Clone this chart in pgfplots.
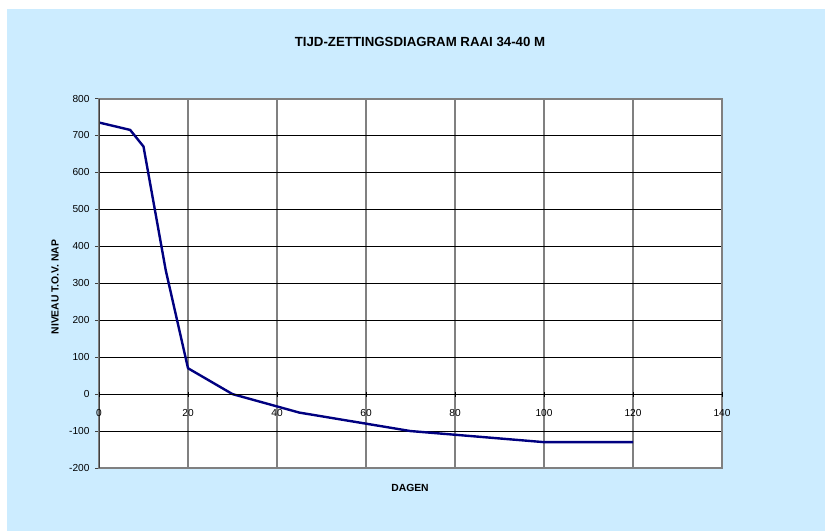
\documentclass[border=0pt]{standalone}
\usepackage{pgfplots}
\pgfplotsset{compat=1.18}
\usepackage{fontspec}
\setmainfont{Liberation Sans}
\definecolor{bgblue}{HTML}{CCECFF}
\definecolor{navyline}{HTML}{000080}
\begin{document}
\begin{tikzpicture}[x=1bp,y=1bp]
\fill[white] (0,0) rectangle (825,-531);
\fill[bgblue] (7,-9) rectangle (825,-531);
\node[font=\bfseries\fontsize{13.3}{15}\selectfont] at (420,-42) {TIJD-ZETTINGSDIAGRAM RAAI 34-40 M};
\node[font=\bfseries\fontsize{10.4}{12}\selectfont, rotate=90] at (55,-287) {NIVEAU T.O.V. NAP};
\node[font=\bfseries\fontsize{10.4}{12}\selectfont] at (410,-488) {DAGEN};
\begin{axis}[at={(99bp,-468bp)}, anchor=south west, scale only axis,
  width=623bp, height=369.5bp,
  xmin=0, xmax=140, ymin=-200, ymax=800,
  xtick={0,20,...,140}, xticklabels={}, x tick style={draw=none},
  ytick={-200,-100,...,800}, ytick pos=left, ytick align=outside,
  y tick style={draw=black!75, line width=1bp}, major tick length=4bp,
  grid=major,
  x grid style={draw=gray, line width=1.6bp},
  y grid style={draw=black, line width=0.9bp},
  axis line style={draw=gray, line width=2bp},
  axis background/.style={fill=white},
  /pgf/number format/assume math mode=true,
  yticklabel style={font=\fontsize{10.2}{12}\selectfont, xshift=-2bp},
]
\addplot[navyline, line width=2.4bp, line join=round] coordinates {
(0,735) (7,715) (10,670) (15,335) (20,70) (30,0) (45,-50) (70,-100) (100,-130) (120,-130)
};
\draw[black!75, line width=2bp] (axis cs:0,-200) -- (axis cs:0,800);
\end{axis}
\begin{axis}[at={(99bp,-468bp)}, anchor=south west, scale only axis,
  width=623bp, height=369.5bp,
  xmin=0, xmax=140, ymin=-200, ymax=800,
  axis x line*=middle, axis y line=none,
  xtick={0,20,...,140}, tick align=center, major tick length=5bp,
  x tick style={draw=black, line width=0.8bp},
  axis line style={draw=black, line width=0.9bp},
  /pgf/number format/assume math mode=true,
  xticklabel style={font=\fontsize{10.2}{12}\selectfont, yshift=-9bp},
]
\end{axis}
\end{tikzpicture}
\end{document}
